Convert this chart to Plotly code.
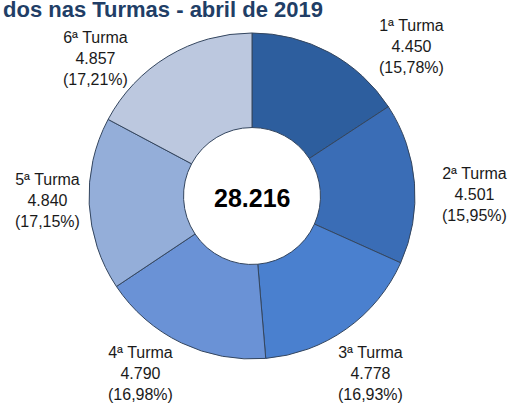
import plotly.graph_objects as go

# data
turmas = ["1ª Turma", "2ª Turma", "3ª Turma", "4ª Turma", "5ª Turma", "6ª Turma"]
alunos = [4450, 4501, 4778, 4790, 4840, 4857]
percentuais = ["15,78%", "15,95%", "16,93%", "16,98%", "17,15%", "17,21%"]
total_label = "28.216"
titulo = "dos nas Turmas - abril de 2019"

slice_colors = ["#2D5E9E", "#3A6DB6", "#4A80CF", "#6A92D6", "#94AED9", "#BCC8DF"]

W, H = 510, 405
LABEL_FONT = "Liberation Sans, Arial, sans-serif"

# label anchors (pixel centre of the middle line), clockwise from 1ª Turma
label_px = [(411, 46), (474, 195), (370, 373), (140, 373), (47, 201), (95, 58)]


def fmt_milhar(v):
    return f"{v:,}".replace(",", ".")


cx, cy, r = 252, 196, 163
fig = go.Figure(go.Pie(
    labels=turmas,
    values=alunos,
    sort=False,
    direction="clockwise",
    rotation=0,
    hole=0.42,
    marker={"colors": slice_colors, "line": {"color": "#34465F", "width": 1}},
    textinfo="none",
    hoverinfo="label+value+percent",
    domain={"x": [(cx - r) / W, (cx + r) / W],
            "y": [1 - (cy + r) / H, 1 - (cy - r) / H]},
    showlegend=False,
))

annotations = []
for name, val, pct, (px, py) in zip(turmas, alunos, percentuais, label_px):
    annotations.append(dict(
        x=px / W, y=1 - py / H, xref="paper", yref="paper",
        xanchor="center", yanchor="middle", showarrow=False,
        text=f"{name}<br>{fmt_milhar(val)}<br>({pct})",
        font={"family": LABEL_FONT, "size": 16, "color": "#1A1A1A"},
        align="center",
    ))

annotations.append(dict(
    x=cx / W, y=1 - 198 / H, xref="paper", yref="paper",
    xanchor="center", yanchor="middle", showarrow=False,
    text=f"<b>{total_label}</b>",
    font={"family": "Liberation Sans, Arial, sans-serif", "size": 25, "color": "#000000"},
))

# title is partly cropped at the top edge in the reference
annotations.append(dict(
    x=1 / W, y=1 - 9 / H, xref="paper", yref="paper",
    xanchor="left", yanchor="middle", showarrow=False,
    text=f"<b>{titulo}</b>",
    font={"family": "Liberation Sans, Arial, sans-serif", "size": 22, "color": "#213E66"},
))

fig.update_layout(
    width=W, height=H,
    margin={"l": 0, "r": 0, "t": 0, "b": 0},
    paper_bgcolor="white",
    plot_bgcolor="white",
    annotations=annotations,
)

fig.write_html("out.html", config={"displayModeBar": False},
               post_script="document.body.style.margin='0';")
